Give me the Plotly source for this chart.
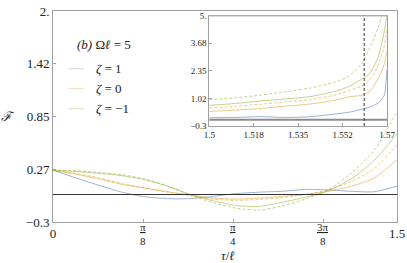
import plotly.graph_objects as go

# ---------------- data ----------------
tau = [0.0, 0.1, 0.2, 0.3, 0.4, 0.5, 0.6, 0.7, 0.8, 0.9, 1.0, 1.1, 1.2, 1.3, 1.4, 1.5]
f_z1 = [0.265, 0.18, 0.10, 0.025, -0.025, -0.045, -0.045, -0.02, 0.01, 0.025, 0.035, 0.055, 0.05, 0.035, 0.03, 0.09]
f_z0 = [0.265, 0.22, 0.17, 0.11, 0.07, 0.03, -0.005, -0.04, -0.05, -0.04, -0.02, 0.0, 0.035, 0.09, 0.18, 0.38]
f_z0_d = [0.265, 0.23, 0.18, 0.12, 0.07, 0.025, -0.015, -0.05, -0.065, -0.055, -0.035, 0.0, 0.05, 0.14, 0.28, 0.54]
f_zm1 = [0.265, 0.25, 0.23, 0.205, 0.16, 0.09, 0.0, -0.07, -0.12, -0.13, -0.085, -0.03, 0.04, 0.17, 0.37, 0.66]
f_zm1_d = [0.265, 0.26, 0.24, 0.215, 0.17, 0.09, -0.01, -0.09, -0.15, -0.17, -0.125, -0.05, 0.05, 0.23, 0.48, 0.90]

tau_in = [1.5, 1.51, 1.52, 1.53, 1.54, 1.55, 1.555, 1.56, 1.563, 1.565, 1.567, 1.569, 1.5695, 1.57]
g_z1 = [0.10, 0.11, 0.15, 0.11, 0.15, 0.28, 0.36, 0.50, 0.60, 0.70, 0.85, 1.2, 1.7, 2.4]
g_z0 = [0.40, 0.46, 0.54, 0.65, 0.76, 0.95, 1.10, 1.18, 1.35, 1.65, 2.1, 2.7, 3.0, 3.3]
g_z0_d = [0.56, 0.64, 0.74, 0.86, 0.97, 1.20, 1.40, 1.62, 1.9, 2.25, 2.8, 3.6, 3.95, 4.3]
g_zm1 = [0.69, 0.78, 0.90, 1.00, 1.12, 1.38, 1.60, 1.95, 2.2, 2.6, 3.2, 4.3, 4.7, 5.0]
g_zm1_d = [0.96, 1.05, 1.18, 1.34, 1.53, 1.83, 2.10, 2.70, 3.4, 3.95, 4.6, 5.5, 5.7, 6.0]
t_mark = 1.561

main_yticks = [-0.3, 0.275, 0.85, 1.425, 2.0]
main_ylabels = ["\u22120.3", "0.27", "0.85", "1.42", "2."]
main_xticks = [0, 0.3927, 0.7854, 1.1781, 1.5]
main_xlabels = ["0", "", "", "", "1.5"]
frac_ticks = [0.3927, 0.7854, 1.1781]
frac_num = ["\u03c0", "\u03c0", "3\u03c0"]
frac_den = ["8", "4", "8"]
in_yticks = [-0.3, 1.025, 2.35, 3.675, 5.0]
in_ylabels = ["\u22120.3", "1.02", "2.35", "3.68", "5."]
in_xticks = [1.5, 1.5175, 1.535, 1.5525, 1.57]
in_xlabels = ["1.5", "1.518", "1.535", "1.552", "1.57"]

legend_labels = ["\u03b6 = 1", "\u03b6 = 0", "\u03b6 = \u22121"]

# ---------------- style ----------------
BLUE = "rgba(94,129,181,0.6)"
ORANGE = "rgba(225,156,36,0.55)"
GREEN = "rgba(143,176,50,0.55)"
FONT = "Liberation Serif, Times New Roman, serif"
DASH = "3px,2px"

fig = go.Figure()

def add(x, y, color, dash, xa, ya):
    fig.add_trace(go.Scatter(x=x, y=y, mode="lines", xaxis=xa, yaxis=ya,
                             line=dict(color=color, width=1, dash=dash, shape="spline", smoothing=0.7),
                             showlegend=False, hoverinfo="skip"))

add(tau, f_z1, BLUE, "solid", "x", "y")
add(tau, f_z0_d, ORANGE, DASH, "x", "y")
add(tau, f_z0, ORANGE, "solid", "x", "y")
add(tau, f_zm1_d, GREEN, DASH, "x", "y")
add(tau, f_zm1, GREEN, "solid", "x", "y")

add(tau_in, g_z1, BLUE, "solid", "x2", "y2")
add(tau_in, g_z0_d, ORANGE, DASH, "x2", "y2")
add(tau_in, g_z0, ORANGE, "solid", "x2", "y2")
add(tau_in, g_zm1_d, GREEN, DASH, "x2", "y2")
add(tau_in, g_zm1, GREEN, "solid", "x2", "y2")

axcol = "#a0a0a0"
common = dict(showgrid=False, zeroline=False, showline=True, linecolor=axcol, linewidth=1,
              mirror=True, ticks="inside", ticklen=3, tickcolor=axcol, automargin=False)
fig.update_layout(
    width=407, height=263,
    margin=dict(l=53, r=10, t=11, b=41, autoexpand=False),
    paper_bgcolor="white", plot_bgcolor="white",
    font=dict(family=FONT, size=13, color="#222"),
    hovermode=False,
    xaxis=dict(range=[0, 1.5], tickvals=main_xticks, ticktext=main_xlabels,
               tickfont=dict(size=13), ticklabelstandoff=-1, domain=[0, 1], **common),
    yaxis=dict(range=[-0.3, 2.0], tickvals=main_yticks, ticktext=main_ylabels,
               tickfont=dict(size=13), domain=[0, 1], **common),
    xaxis2=dict(range=[1.5, 1.57], tickvals=in_xticks, ticktext=in_xlabels, anchor="y2",
                tickfont=dict(size=9), domain=[0.4544, 0.971], **common),
    yaxis2=dict(range=[-0.3, 5.0], tickvals=in_yticks, ticktext=in_ylabels, anchor="x2",
                tickfont=dict(size=9), domain=[0.455, 0.978], **common),
)

# fraction tick labels (pi multiples)
for xv, num, den in zip(frac_ticks, frac_num, frac_den):
    fig.add_annotation(xref="x", yref="paper", x=xv, y=-0.026, text="<u>" + num + "</u>",
                       showarrow=False, font=dict(size=11), xanchor="center", yanchor="middle")
    fig.add_annotation(xref="x", yref="paper", x=xv, y=-0.092, text=den,
                       showarrow=False, font=dict(size=11), xanchor="center", yanchor="middle")

# reference lines
fig.add_shape(type="line", xref="x domain", yref="y", x0=0, x1=1, y0=0, y1=0,
              line=dict(color="#333", width=1.2))
fig.add_shape(type="line", xref="x2 domain", yref="y2", x0=0, x1=1, y0=0, y1=0,
              line=dict(color="#8c8c8c", width=2.2))
fig.add_shape(type="line", xref="x2 domain", yref="y2", x0=0, x1=1, y0=5, y1=5,
              line=dict(color="#cfcfcf", width=2.2))
fig.add_shape(type="line", xref="x2", yref="y2 domain", x0=t_mark, x1=t_mark, y0=0, y1=1,
              line=dict(color="#333", width=1, dash="3px,2px"))

# axis titles
fig.add_annotation(xref="paper", yref="paper", x=-0.13, y=0.5, text="<i>\u2131</i>",
                   showarrow=False, font=dict(size=13), xanchor="center", yanchor="middle")
fig.add_annotation(xref="paper", yref="paper", x=0.51, y=-0.158, text="<i>\u03c4</i>/<i>\u2113</i>",
                   showarrow=False, font=dict(size=13), xanchor="center", yanchor="middle")

# legend (manual)
fig.add_annotation(xref="paper", yref="paper", x=0.065, y=0.84, text="<i>(b)</i> \u03a9<i>\u2113</i> = 5",
                   showarrow=False, font=dict(size=13), xanchor="left", yanchor="middle")
leg_cols = ["rgba(94,129,181,0.25)", "rgba(225,156,36,0.3)", "rgba(143,176,50,0.3)"]
leg_y = [0.727, 0.632, 0.537]
for lab, col, yy in zip(legend_labels, leg_cols, leg_y):
    fig.add_shape(type="line", xref="paper", yref="paper", x0=0.045, x1=0.09, y0=yy, y1=yy,
                  line=dict(color=col, width=1.2))
    fig.add_annotation(xref="paper", yref="paper", x=0.12, y=yy, text="<i>\u03b6</i>" + lab[1:],
                       showarrow=False, font=dict(size=13), xanchor="left", yanchor="middle")

fig.write_html("out.html", config={"displayModeBar": False, "staticPlot": True},
               post_script="document.body.style.margin='0px';document.body.style.overflow='hidden';")
